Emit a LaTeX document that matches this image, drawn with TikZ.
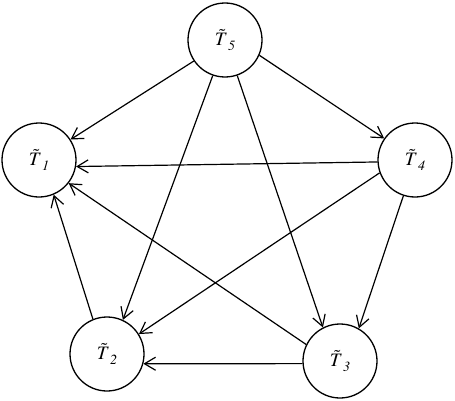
\documentclass[tikz,border=0pt]{standalone}
\usepackage{mathptmx}
\usetikzlibrary{arrows.meta}
\newcommand{\tlab}[1]{\raisebox{4pt}{$\tilde{T}$\kern0.5pt\raisebox{-5pt}{\fontsize{14}{14}\selectfont$\mathit{#1}$}}}
\begin{document}
\begin{tikzpicture}[x=1pt,y=1pt,
  tnode/.style={circle,draw,line width=1.3pt,minimum size=74pt,inner sep=0pt,font=\fontsize{19}{21}\selectfont},
  edge/.style={line width=1.2pt,-{Straight Barb[length=11pt,width=13pt,line width=1.2pt]}}]
\useasboundingbox (0,0) rectangle (455,400);
\node[tnode] (T5) at (225,360) {\tlab{5}};
\node[tnode] (T1) at (39,240) {\tlab{1}};
\node[tnode] (T4) at (415,240) {\tlab{4}};
\node[tnode] (T2) at (107,46) {\tlab{2}};
\node[tnode] (T3) at (340,39) {\tlab{3}};
\draw[edge] (T5.-146) -- (T1.33);
\draw[edge] (T5.-24) -- (T4.145);
\draw[edge] (T5.-109) -- (T2.65);
\draw[edge] (T5.-71) -- (T3.117);
\draw[edge] (T4.-177) -- (T1.-10);
\draw[edge] (T4.-160) -- (T2.32);
\draw[edge] (T4.-108) -- (T3.60);
\draw[edge] (T2.112) -- (T1.-67);
\draw[edge] (T3.154) -- (T1.-38);
\draw[edge] (T3.-176) -- (T2.-15);
\end{tikzpicture}
\end{document}
